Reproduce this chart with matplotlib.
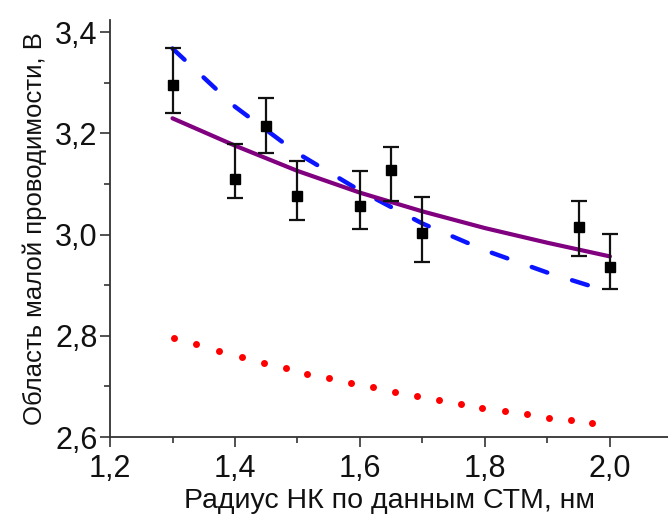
import matplotlib
matplotlib.use("Agg")
import matplotlib.pyplot as plt
import numpy as np
from matplotlib.ticker import MultipleLocator, FuncFormatter

# Experimental points with error bars
radius = [1.30, 1.40, 1.45, 1.50, 1.60, 1.65, 1.70, 1.95, 2.00]
gap = [3.295, 3.111, 3.214, 3.076, 3.056, 3.127, 3.004, 3.016, 2.937]
gap_top = [3.368, 3.180, 3.271, 3.145, 3.125, 3.174, 3.075, 3.067, 3.002]
gap_bottom = [3.241, 3.072, 3.162, 3.028, 3.012, 3.066, 2.945, 2.958, 2.893]

# Solid purple curve
purple_x = [1.30, 1.40, 1.50, 1.60, 1.70, 1.80, 1.90, 2.00]
purple_y = [3.230, 3.176, 3.126, 3.083, 3.046, 3.013, 2.984, 2.957]

# Dashed blue curve
blue_x = [1.30, 1.40, 1.50, 1.60, 1.70, 1.80, 1.90, 1.973]
blue_y = [3.368, 3.253, 3.161, 3.087, 3.022, 2.969, 2.925, 2.897]

# Dotted red curve (individual dots)
red_x = [1.302, 1.337, 1.375, 1.411, 1.446, 1.481, 1.516, 1.550, 1.586, 1.621,
         1.656, 1.692, 1.726, 1.761, 1.796, 1.832, 1.867, 1.902, 1.937, 1.972]
red_y = [2.795, 2.783, 2.770, 2.758, 2.747, 2.736, 2.725, 2.716, 2.707, 2.698,
         2.689, 2.682, 2.674, 2.666, 2.658, 2.652, 2.645, 2.638, 2.633, 2.627]

xlabel = "Радиус НК по данным СТМ, нм"
ylabel = "Область малой проводимости, В"

plt.rcParams['font.family'] = ['Liberation Sans', 'DejaVu Sans']

fig = plt.figure(figsize=(6.68, 5.17), dpi=100)
ax = fig.add_axes([0.1647, 0.1547, 0.8353, 0.8063])

ax.plot(red_x, red_y, linestyle='none', marker='o', markersize=5.0,
        color='#ff0000', markeredgewidth=0)
ax.plot(blue_x, blue_y, color='#0a14ff', lw=3.2,
        linestyle=(0, (3.7, 5.85)), dash_capstyle='round')
ax.plot(purple_x, purple_y, color='#800080', lw=3.0, solid_capstyle='round')

g = np.array(gap)
yerr = [g - np.array(gap_bottom), np.array(gap_top) - g]
ax.errorbar(radius, gap, yerr=yerr, fmt='s', color='black', markersize=6.5,
            ecolor='#111111', elinewidth=1.6, capsize=6, capthick=1.6)

ax.set_xlim(1.2, 2.093)
ax.set_ylim(2.6, 3.424)

for s in ['top', 'right']:
    ax.spines[s].set_visible(False)
for s in ['left', 'bottom']:
    ax.spines[s].set_linewidth(1.3)
    ax.spines[s].set_color('#333333')

ax.xaxis.set_major_locator(MultipleLocator(0.2))
ax.xaxis.set_minor_locator(MultipleLocator(0.1))
ax.yaxis.set_major_locator(MultipleLocator(0.2))
ax.yaxis.set_minor_locator(MultipleLocator(0.1))
fmt = FuncFormatter(lambda v, p: f"{v:.1f}".replace('.', ','))
ax.xaxis.set_major_formatter(fmt)
ax.yaxis.set_major_formatter(fmt)
ax.tick_params(which='major', direction='out', length=7, width=1.2,
               color='#333333', labelsize=22, labelcolor='#111111')
ax.tick_params(axis='x', which='major', pad=5)
ax.tick_params(axis='y', which='major', pad=2)
ax.tick_params(which='minor', direction='out', length=4, width=1.2, color='#333333')

ax.set_xlabel(xlabel, fontsize=20.5, color='#111111', labelpad=3)
ax.set_ylabel(ylabel, fontsize=18.5, color='#111111', labelpad=6)

fig.savefig('out.png', dpi=100)
